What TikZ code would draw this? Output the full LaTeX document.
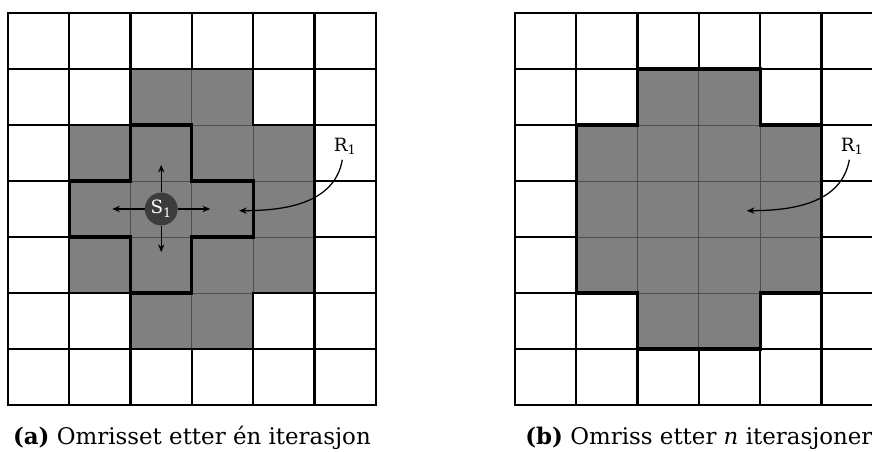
\documentclass[tikz,border=0pt]{standalone}
\usepackage{fontspec}
\setmainfont{DejaVu Serif}
\usetikzlibrary{positioning,arrows.meta}
\definecolor{regiongray}{RGB}{128,128,128}
\definecolor{seedgray}{RGB}{60,60,60}
\definecolor{innergray}{RGB}{78,78,78}

% 6x7 grid with the shaded region
\newcommand{\regiongrid}{%
  \fill[white] (0,0) rectangle (6,7);
  \foreach \i in {0,...,6} \draw[gridline] (\i,0) -- (\i,7);
  \foreach \j in {0,...,7} \draw[gridline] (0,\j) -- (6,\j);
  \fill[region] (2,6) -- (4,6) -- (4,5) -- (5,5) -- (5,2) -- (4,2) -- (4,1)
      -- (2,1) -- (2,2) -- (1,2) -- (1,5) -- (2,5) -- cycle;
  \draw[innerline] (1,2) grid[step=1] (5,5);
  \draw[innerline] (2,1) grid[step=1] (4,6);
  \draw[gridline] (2,6) -- (4,6) -- (4,5) -- (5,5) -- (5,2) -- (4,2) -- (4,1)
      -- (2,1) -- (2,2) -- (1,2) -- (1,5) -- (2,5) -- cycle;
}

\begin{document}
\begin{tikzpicture}[
    gridline/.style={line width=1.6pt, draw=black, line cap=rect},
    innerline/.style={line width=0.6pt, draw=innergray},
    outline/.style={line width=2.2pt, draw=black, line join=miter},
    region/.style={fill=regiongray},
    seed/.style={circle, fill=seedgray, minimum size=0.82cm, inner sep=0pt,
                 text=white, font={\fontsize{13}{15}\selectfont}},
    regionlabel/.style={font={\fontsize{13}{15}\selectfont}},
    caption/.style={anchor=base, font={\fontsize{16.3}{19}\selectfont}},
    arrow/.style={-{Stealth[length=5.5pt,width=4.5pt]}, line width=0.9pt}
]
\useasboundingbox (0,0) rectangle (21.8,11.3);
\clip (0,0) rectangle (21.8,11.3);

% (a) one iteration
\begin{scope}[shift={(0.2,1.175)}, x=1.5325cm, y=1.4cm]
  \regiongrid
  \draw[outline] (2,5) -- (3,5) -- (3,4) -- (4,4) -- (4,3) -- (3,3) -- (3,2)
      -- (2,2) -- (2,3) -- (1,3) -- (1,4) -- (2,4) -- cycle;

  \node[seed] (s1) at (2.5,3.5) {S\textsubscript{1}};
  \coordinate (s1up) at (2.5,4.29);
  \coordinate (s1down) at (2.5,2.73);
  \coordinate (s1left) at (1.7,3.5);
  \coordinate (s1right) at (3.3,3.5);
  \draw[arrow] (s1) -- (s1up);
  \draw[arrow] (s1) -- (s1down);
  \draw[arrow] (s1) -- (s1left);
  \draw[arrow] (s1) -- (s1right);

  \node[regionlabel] (r1a) at (5.5,4.62) {R\textsubscript{1}};
  \coordinate (r1aend) at (3.77,3.47);
  \draw[arrow] ([xshift=-2pt]r1a.south) to[out=-100, in=0] (r1aend);

  \node[caption] (capa) at (3,-0.714) {\textbf{(a)} Omrisset etter én iterasjon};
\end{scope}

% (b) n iterations
\begin{scope}[shift={(12.875,1.175)}, x=1.5325cm, y=1.4cm]
  \regiongrid
  \draw[outline] (2,6) -- (4,6) -- (4,5) -- (5,5) -- (5,2) -- (4,2) -- (4,1)
      -- (2,1) -- (2,2) -- (1,2) -- (1,5) -- (2,5) -- cycle;

  \node[regionlabel] (r1b) at (5.5,4.62) {R\textsubscript{1}};
  \coordinate (r1bend) at (3.78,3.47);
  \draw[arrow] ([xshift=-2pt]r1b.south) to[out=-100, in=0] (r1bend);

  \node[caption] (capb) at (3,-0.714) {\textbf{(b)} Omriss etter \textit{n} iterasjoner};
\end{scope}

\end{tikzpicture}
\end{document}
